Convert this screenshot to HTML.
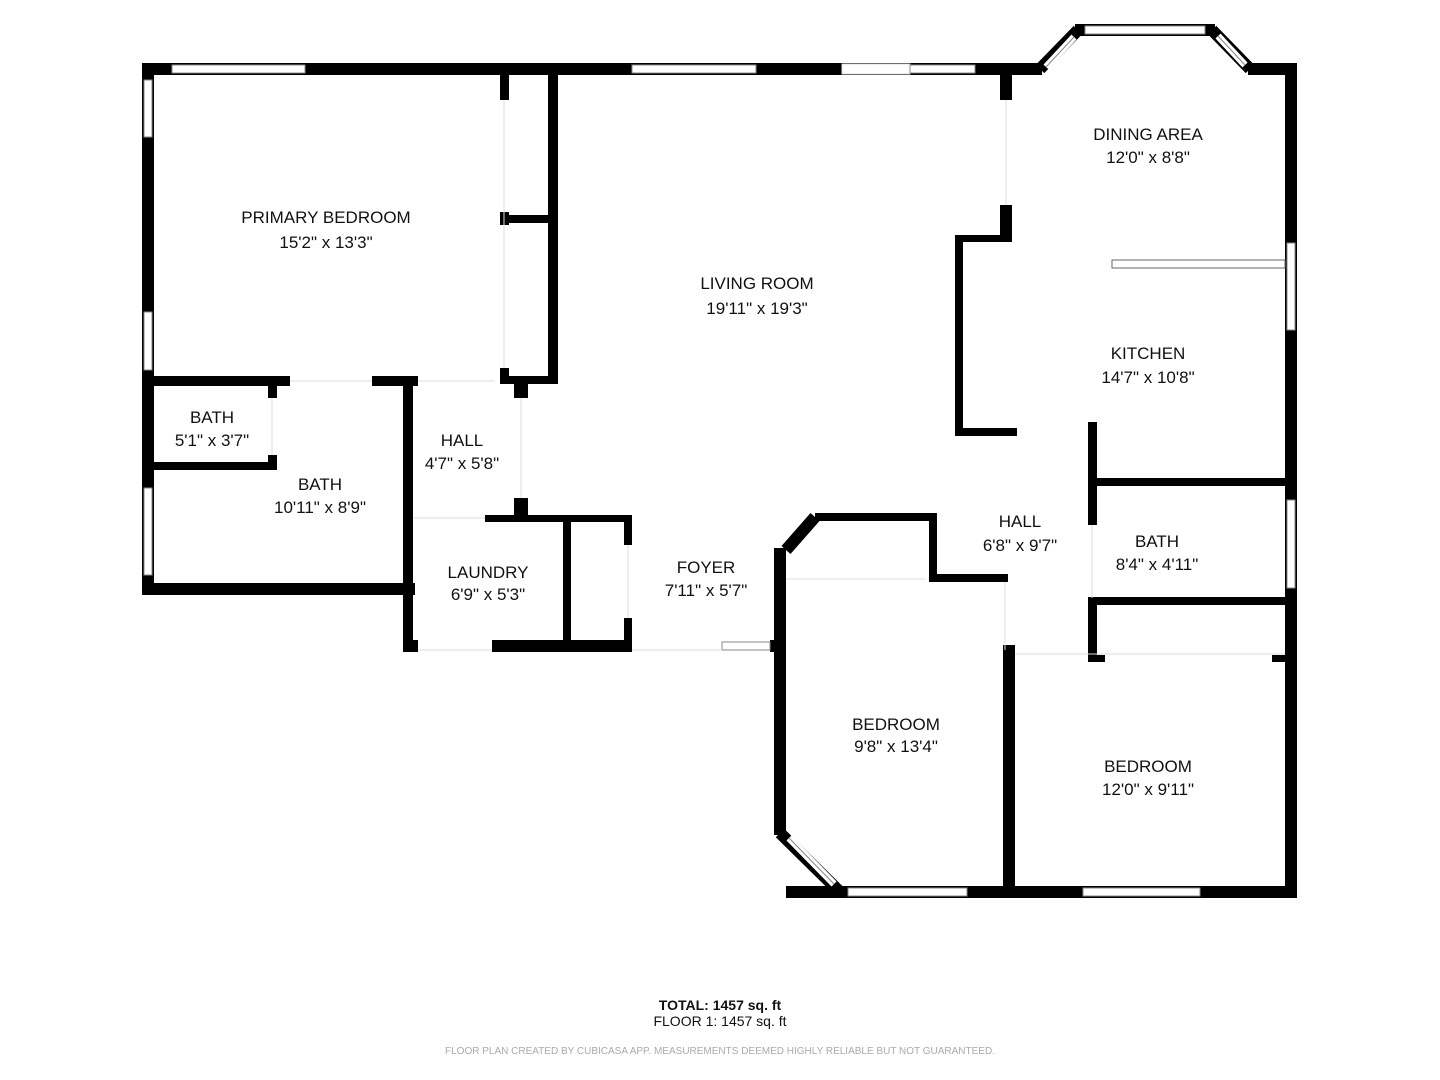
<!DOCTYPE html>
<html><head><style>
html,body{margin:0;padding:0;background:#fff}
svg{display:block}
text{font-family:"Liberation Sans",sans-serif;fill:#111}
</style></head><body>
<svg width="1440" height="1080" viewBox="0 0 1440 1080" xmlns="http://www.w3.org/2000/svg">
<g fill="#000">
<rect x="142" y="63" width="900" height="12"/>
<rect x="1248" y="63" width="49" height="12"/>
<rect x="142" y="63" width="12" height="532"/>
<rect x="1285" y="63" width="12" height="835"/>
<rect x="786" y="886" width="511" height="12"/>
<rect x="500" y="75" width="9" height="25"/>
<rect x="500" y="212" width="9" height="13"/>
<rect x="500" y="368" width="9" height="16"/>
<rect x="548" y="75" width="10" height="309"/>
<rect x="500" y="215" width="58" height="8"/>
<rect x="500" y="376" width="58" height="8"/>
<rect x="142" y="376" width="148" height="10"/>
<rect x="372" y="376" width="46" height="10"/>
<rect x="514" y="384" width="14" height="14"/>
<rect x="514" y="498" width="14" height="24"/>
<rect x="268" y="384" width="9" height="14"/>
<rect x="268" y="455" width="9" height="15"/>
<rect x="154" y="462" width="123" height="8"/>
<rect x="142" y="583" width="273" height="12"/>
<rect x="403" y="384" width="10" height="268"/>
<rect x="403" y="515" width="10" height="7"/>
<rect x="485" y="515" width="147" height="7"/>
<rect x="563" y="515" width="8" height="125"/>
<rect x="624" y="515" width="8" height="30"/>
<rect x="624" y="618" width="8" height="34"/>
<rect x="492" y="640" width="140" height="12"/>
<rect x="403" y="640" width="15" height="12"/>
<rect x="774" y="548" width="12" height="287"/>
<rect x="770" y="640" width="16" height="12"/>
<rect x="815" y="513" width="122" height="8"/>
<rect x="929" y="513" width="8" height="69"/>
<rect x="929" y="574" width="79" height="8"/>
<rect x="1003" y="645" width="12" height="253"/>
<rect x="1000" y="75" width="12" height="25"/>
<rect x="1000" y="205" width="12" height="37"/>
<rect x="955" y="235" width="57" height="7"/>
<rect x="955" y="235" width="8" height="200"/>
<rect x="955" y="428" width="62" height="8"/>
<rect x="1088" y="422" width="9" height="103"/>
<rect x="1088" y="598" width="9" height="64"/>
<rect x="1088" y="478" width="209" height="8"/>
<rect x="1088" y="597" width="209" height="8"/>
<rect x="1088" y="655" width="17" height="7"/>
<rect x="1272" y="655" width="18" height="7"/>
</g>
<g stroke="#000" stroke-width="12" fill="none">
<line x1="786" y1="550" x2="815" y2="517"/>
<line x1="780" y1="833" x2="840" y2="892"/>
<line x1="1040" y1="69" x2="1078" y2="30"/>
<line x1="1212" y1="30" x2="1250" y2="69"/>
<line x1="1075" y1="30" x2="1215" y2="30"/>
</g>
<!-- diagonal windows -->
<g stroke="#fff" stroke-width="7" fill="none">
<line x1="1046" y1="67" x2="1074" y2="37"/>
<line x1="1218" y1="36" x2="1245" y2="65"/>
<line x1="789" y1="838" x2="834" y2="884"/>
</g>
<g stroke="#888" stroke-width="1" fill="none">
<line x1="1046" y1="67" x2="1074" y2="37"/>
<line x1="1218" y1="36" x2="1245" y2="65"/>
<line x1="789" y1="838" x2="834" y2="884"/>
</g>
<g fill="#fff" stroke="#888" stroke-width="1">
<rect x="172" y="65" width="133" height="8"/>
<rect x="632" y="65" width="124" height="8"/>
<rect x="842" y="64" width="68" height="10" stroke="#ddd"/>
<rect x="910" y="65" width="65" height="8"/>
<rect x="1085" y="26" width="120" height="8"/>
<rect x="144" y="80" width="8" height="57"/>
<rect x="144" y="312" width="8" height="58"/>
<rect x="144" y="488" width="8" height="87"/>
<rect x="1287" y="243" width="8" height="87"/>
<rect x="1287" y="500" width="8" height="88"/>
<rect x="848" y="888" width="119" height="8"/>
<rect x="1083" y="888" width="117" height="8"/>
<rect x="722" y="642" width="48" height="8"/>
<rect x="1112" y="260" width="173" height="8" stroke="#666"/>
</g>
<g stroke="#ddd" stroke-width="1" fill="none">
<line x1="786" y1="579" x2="925" y2="579"/>
<line x1="1015" y1="654" x2="1285" y2="654"/>
<line x1="1005" y1="582" x2="1005" y2="650"/>
<line x1="290" y1="381" x2="372" y2="381"/>
<line x1="418" y1="381" x2="495" y2="381"/>
<line x1="413" y1="518" x2="485" y2="518"/>
<line x1="418" y1="650" x2="492" y2="650"/>
<line x1="632" y1="650" x2="722" y2="650"/>
<line x1="504" y1="100" x2="504" y2="368"/>
<line x1="1006" y1="100" x2="1006" y2="205"/>
<line x1="521" y1="398" x2="521" y2="498"/>
<line x1="628" y1="545" x2="628" y2="618"/>
<line x1="272" y1="398" x2="272" y2="455"/>
<line x1="1092" y1="525" x2="1092" y2="598"/>
</g>
<g font-size="17" text-anchor="middle">
<text x="326" y="223">PRIMARY BEDROOM</text><text x="326" y="248">15'2" x 13'3"</text>
<text x="757" y="289">LIVING ROOM</text><text x="757" y="314">19'11" x 19'3"</text>
<text x="1148" y="140">DINING AREA</text><text x="1148" y="163">12'0" x 8'8"</text>
<text x="1148" y="359">KITCHEN</text><text x="1148" y="383">14'7" x 10'8"</text>
<text x="212" y="423">BATH</text><text x="212" y="446">5'1" x 3'7"</text>
<text x="320" y="490">BATH</text><text x="320" y="513">10'11" x 8'9"</text>
<text x="462" y="446">HALL</text><text x="462" y="469">4'7" x 5'8"</text>
<text x="488" y="578">LAUNDRY</text><text x="488" y="600">6'9" x 5'3"</text>
<text x="706" y="573">FOYER</text><text x="706" y="596">7'11" x 5'7"</text>
<text x="1020" y="527">HALL</text><text x="1020" y="551">6'8" x 9'7"</text>
<text x="1157" y="547">BATH</text><text x="1157" y="570">8'4" x 4'11"</text>
<text x="896" y="730">BEDROOM</text><text x="896" y="752">9'8" x 13'4"</text>
<text x="1148" y="772">BEDROOM</text><text x="1148" y="795">12'0" x 9'11"</text>
</g>
<text x="720" y="1010" font-size="14" font-weight="bold" text-anchor="middle">TOTAL: 1457 sq. ft</text>
<text x="720" y="1026" font-size="14" text-anchor="middle">FLOOR 1: 1457 sq. ft</text>
<text x="720" y="1054" font-size="10" text-anchor="middle" style="fill:#aaa">FLOOR PLAN CREATED BY CUBICASA APP. MEASUREMENTS DEEMED HIGHLY RELIABLE BUT NOT GUARANTEED.</text>
</svg>
</body></html>
